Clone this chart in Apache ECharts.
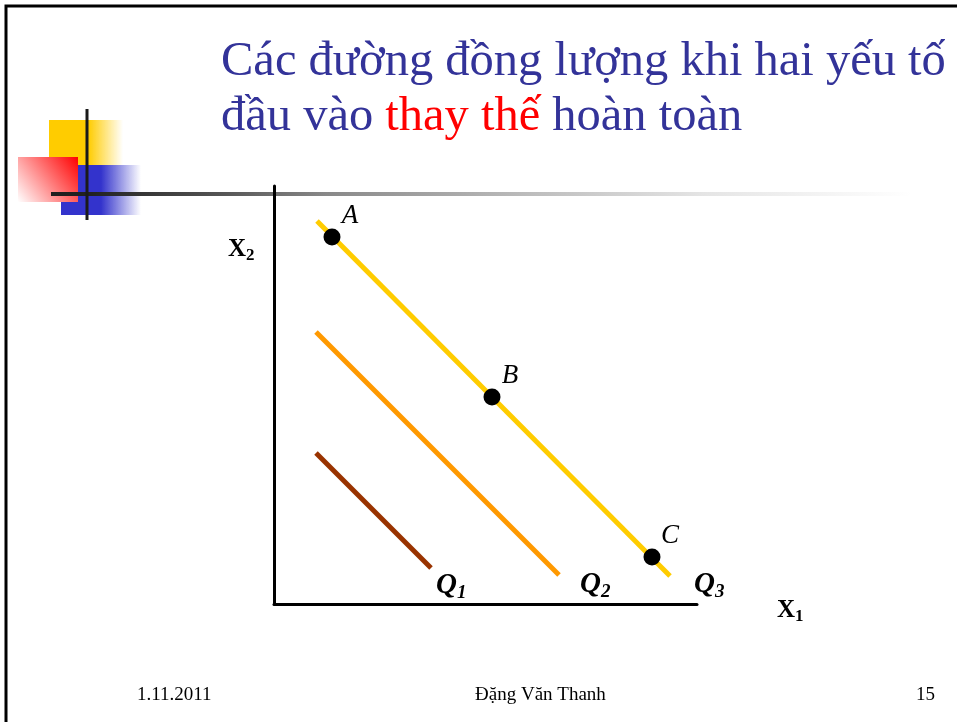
<!DOCTYPE html>
<html>
<head>
<meta charset="utf-8">
<script src="https://cdn.jsdelivr.net/npm/echarts@6/dist/echarts.min.js"></script>
<style>
html,body{margin:0;padding:0;background:#fff;}
#chart{width:957px;height:722px;}
</style>
</head>
<body>
<div id="chart"></div>
<script>
// đường đồng lượng (isoquants), đơn vị tuỳ ý trên hai trục X1, X2
var q1Line = [[42, 151], [157, 36]];
var q2Line = [[42, 272], [285, 29]];
var q3Line = [[43, 383], [396, 28]];
var pointNames = ['A', 'B', 'C'];
var pointValues = [[58, 367], [218, 207], [378, 47]];
var qNames = ['Q1', 'Q2', 'Q3'];
var qColors = ['#993300', '#FF9900', '#FFCC00'];

var serif = '"Liberation Serif","Times New Roman",serif';
var chart = echarts.init(document.getElementById('chart'));

function qLabel(idx, offset){
	return {
		show: true,
		offset: offset,
		formatter: '{q|Q}{s|' + (idx + 1) + '}',
		rich: {
			q: {fontFamily: serif, fontSize: 29, fontStyle: 'italic', fontWeight: 'bold', color: '#000'},
			s: {fontFamily: serif, fontSize: 19, fontStyle: 'italic', fontWeight: 'bold', color: '#000', padding: [14, 0, 0, 0]}
		}
	};
}

function lineSeries(idx, data, offset){
	return {
		name: qNames[idx],
		type: 'line',
		data: data,
		symbol: 'none',
		silent: true,
		animation: false,
		lineStyle: {color: qColors[idx], width: 5, cap: 'butt'},
		endLabel: qLabel(idx, offset)
	};
}

var option = {
	animation: false,
	grid: {left: 274, right: 260, top: 186, bottom: 118},
	xAxis: {
		type: 'value', min: 0, max: 423,
		axisLine: {show: true, lineStyle: {color: '#000', width: 3}},
		axisTick: {show: false}, axisLabel: {show: false}, splitLine: {show: false}
	},
	yAxis: {
		type: 'value', min: 0, max: 418,
		axisLine: {show: true, lineStyle: {color: '#000', width: 3}},
		axisTick: {show: false}, axisLabel: {show: false}, splitLine: {show: false}
	},
	series: [
		lineSeries(0, q1Line, [-3, 18]),
		lineSeries(1, q2Line, [13, 10]),
		lineSeries(2, q3Line, [16, 9]),
		{
			type: 'scatter',
			symbolSize: 17,
			silent: true,
			itemStyle: {color: '#000', opacity: 1},
			data: pointValues.map(function(v, i){ return {name: pointNames[i], value: v}; }),
			label: {
				show: true, position: 'top', offset: [18, 6],
				formatter: '{b}', opacity: 1,
				fontFamily: serif, fontSize: 27, fontStyle: 'italic', color: '#000'
			},
			z: 5
		}
	],
	graphic: [
		// khung slide
		{type: 'polyline', shape: {points: [[6, 722], [6, 6], [957, 6]]}, style: {stroke: '#000', lineWidth: 3, fill: null}, silent: true},
		// họa tiết góc trái
		{type: 'rect', shape: {x: 49, y: 120, width: 74, height: 45},
			style: {fill: new echarts.graphic.LinearGradient(0, 0, 1, 0, [
				{offset: 0, color: '#FFCC00'}, {offset: 0.53, color: '#FFCC00'}, {offset: 1, color: 'rgba(255,204,0,0)'}])}, silent: true},
		{type: 'rect', shape: {x: 61, y: 165, width: 80, height: 50},
			style: {fill: new echarts.graphic.LinearGradient(0, 0, 1, 0, [
				{offset: 0, color: '#3333CC'}, {offset: 0.5, color: '#3333CC'}, {offset: 1, color: 'rgba(51,51,204,0)'}])}, silent: true},
		{type: 'rect', shape: {x: 18, y: 157, width: 60, height: 45},
			style: {fill: new echarts.graphic.LinearGradient(1, 0, 0, 1, [
				{offset: 0, color: '#FF0000'}, {offset: 1, color: '#FFFFFF'}])}, silent: true},
		{type: 'line', shape: {x1: 51, y1: 194, x2: 910, y2: 194},
			style: {lineWidth: 4, stroke: new echarts.graphic.LinearGradient(0, 0, 1, 0, [
				{offset: 0, color: '#1e1e1e'}, {offset: 0.05, color: '#222'}, {offset: 0.2, color: '#555'},
				{offset: 0.32, color: '#888'}, {offset: 0.55, color: '#bbb'}, {offset: 0.76, color: '#e5e5e5'},
				{offset: 1, color: '#fff'}])}, silent: true},
		{type: 'line', shape: {x1: 87, y1: 109, x2: 87, y2: 220}, style: {lineWidth: 3, stroke: '#1a1a1a'}, silent: true},
		// tiêu đề
		{type: 'text', left: 221, top: 38, silent: true,
			style: {text: 'Các đường đồng lượng khi hai yếu tố', font: '48.5px ' + serif, fill: '#333399'}},
		{type: 'text', left: 221, top: 93, silent: true,
			style: {
				text: '{n|đầu vào }{r|thay thế}{n| hoàn toàn}',
				rich: {
					n: {fontFamily: serif, fontSize: 48.5, fill: '#333399'},
					r: {fontFamily: serif, fontSize: 48.5, fill: '#FF0000'}
				}
			}},
		// tên trục
		{type: 'text', left: 228, top: 237, silent: true,
			style: {
				text: '{x|X}{s|2}',
				rich: {
					x: {fontFamily: serif, fontSize: 25, fontWeight: 'bold', fill: '#000'},
					s: {fontFamily: serif, fontSize: 17, fontWeight: 'bold', fill: '#000', padding: [12, 0, 0, 0]}
				}
			}},
		{type: 'text', left: 777, top: 598, silent: true,
			style: {
				text: '{x|X}{s|1}',
				rich: {
					x: {fontFamily: serif, fontSize: 25, fontWeight: 'bold', fill: '#000'},
					s: {fontFamily: serif, fontSize: 17, fontWeight: 'bold', fill: '#000', padding: [12, 0, 0, 0]}
				}
			}},
		// chân trang
		{type: 'text', left: 137, top: 686, silent: true,
			style: {text: '1.11.2011', font: '19px ' + serif, fill: '#000'}},
		{type: 'text', left: 475, top: 686, silent: true,
			style: {text: 'Đặng Văn Thanh', font: '19px ' + serif, fill: '#000'}},
		{type: 'text', left: 916, top: 686, silent: true,
			style: {text: '15', font: '19px ' + serif, fill: '#000'}}
	]
};
chart.setOption(option);
</script>
</body>
</html>
